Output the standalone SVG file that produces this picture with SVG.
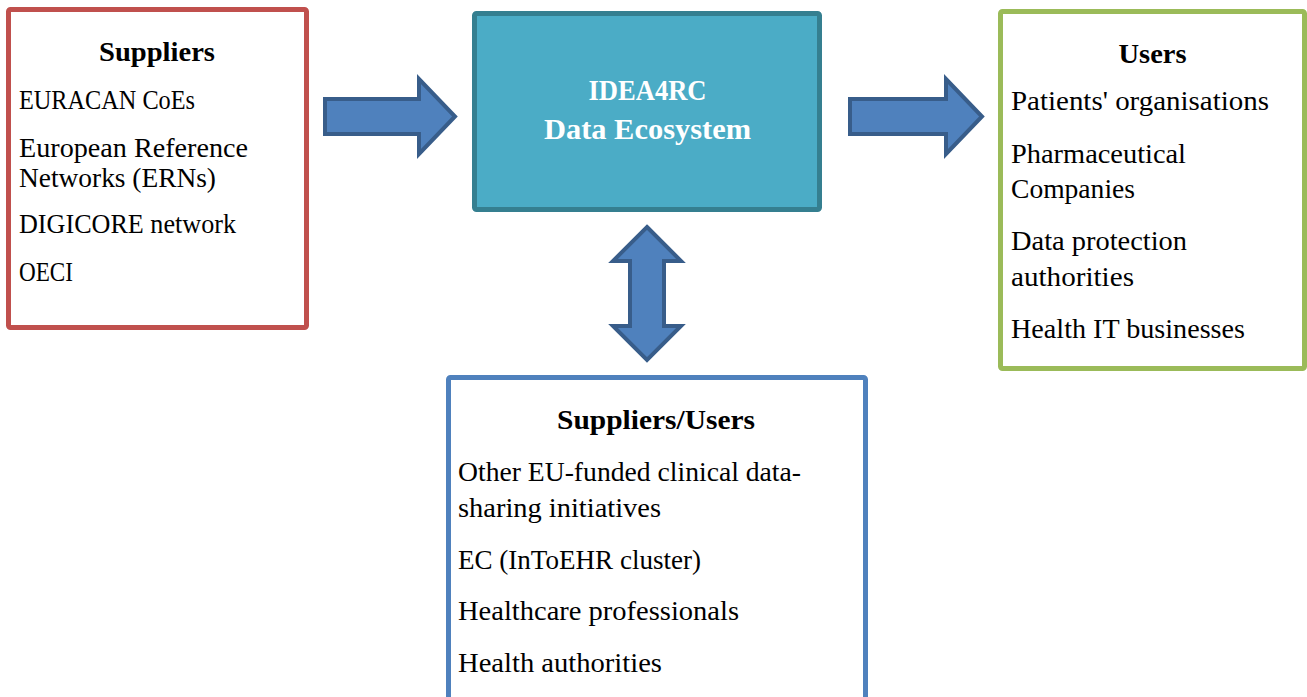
<svg xmlns="http://www.w3.org/2000/svg" width="1307" height="697" viewBox="0 0 1307 697">
<style>
.t{font-family:"Liberation Serif","DejaVu Serif",serif;font-size:27px;fill:#000}
.h{font-family:"Liberation Serif","DejaVu Serif",serif;font-size:27px;font-weight:bold;fill:#000;text-anchor:middle}
.c{font-family:"Liberation Serif","DejaVu Serif",serif;font-size:30px;font-weight:bold;fill:#fff;text-anchor:middle}
.arrow{fill:#4f81bd;stroke:#385d8a;stroke-width:4;stroke-linejoin:miter}
</style>
<rect width="1307" height="697" fill="#fff"/>
<g id="connectors">
<path class="arrow" d="M325,99 H419 V79 L455,116.5 L419,154 V134 H325 Z"/>
<path class="arrow" d="M850,99 H946 V79 L982,116.5 L946,154 V134 H850 Z"/>
<path class="arrow" d="M647,227 L681,261 H664 V326 H681 L647,360 L613,326 H630 V261 H613 Z"/>
</g>
<g id="suppliers">
<rect x="8.5" y="9.5" width="298" height="318" rx="2" fill="#fff" stroke="#c0504d" stroke-width="5"/>
<text class="h" x="157" y="61" textLength="116" lengthAdjust="spacingAndGlyphs">Suppliers</text>
<text class="t" x="19" y="109" textLength="176" lengthAdjust="spacingAndGlyphs">EURACAN CoEs</text>
<text class="t" x="19" y="157" textLength="229" lengthAdjust="spacingAndGlyphs">European Reference</text>
<text class="t" x="19" y="187" textLength="197" lengthAdjust="spacingAndGlyphs">Networks (ERNs)</text>
<text class="t" x="19" y="233" textLength="217" lengthAdjust="spacingAndGlyphs">DIGICORE network</text>
<text class="t" x="19" y="281" textLength="54" lengthAdjust="spacingAndGlyphs">OECI</text>
</g>
<g id="ecosystem">
<rect x="474.5" y="13.5" width="345" height="196" rx="2" fill="#4bacc6" stroke="#357f90" stroke-width="5"/>
<text class="c" x="647.5" y="100" textLength="118" lengthAdjust="spacingAndGlyphs">IDEA4RC</text>
<text class="c" x="647.5" y="139" textLength="207" lengthAdjust="spacingAndGlyphs">Data Ecosystem</text>
</g>
<g id="users">
<rect x="1000.5" y="11.5" width="304" height="357" rx="2" fill="#fff" stroke="#9bbb59" stroke-width="5"/>
<text class="h" x="1152.5" y="63" textLength="68" lengthAdjust="spacingAndGlyphs">Users</text>
<text class="t" x="1011" y="110" textLength="258" lengthAdjust="spacingAndGlyphs">Patients' organisations</text>
<text class="t" x="1011" y="163" textLength="175" lengthAdjust="spacingAndGlyphs">Pharmaceutical</text>
<text class="t" x="1011" y="198" textLength="124" lengthAdjust="spacingAndGlyphs">Companies</text>
<text class="t" x="1011" y="250" textLength="176" lengthAdjust="spacingAndGlyphs">Data protection</text>
<text class="t" x="1011" y="286" textLength="123" lengthAdjust="spacingAndGlyphs">authorities</text>
<text class="t" x="1011" y="338" textLength="234" lengthAdjust="spacingAndGlyphs">Health IT businesses</text>
</g>
<g id="suppliers-users">
<rect x="448.5" y="377.5" width="417" height="340" rx="2" fill="#fff" stroke="#4f81bd" stroke-width="5"/>
<text class="h" x="656" y="429" textLength="198" lengthAdjust="spacingAndGlyphs">Suppliers/Users</text>
<text class="t" x="458" y="481" textLength="343" lengthAdjust="spacingAndGlyphs">Other EU-funded clinical data-</text>
<text class="t" x="458" y="517" textLength="203" lengthAdjust="spacingAndGlyphs">sharing initiatives</text>
<text class="t" x="458" y="569" textLength="243" lengthAdjust="spacingAndGlyphs">EC (InToEHR cluster)</text>
<text class="t" x="458" y="620" textLength="281" lengthAdjust="spacingAndGlyphs">Healthcare professionals</text>
<text class="t" x="458" y="672" textLength="204" lengthAdjust="spacingAndGlyphs">Health authorities</text>
</g>
</svg>
